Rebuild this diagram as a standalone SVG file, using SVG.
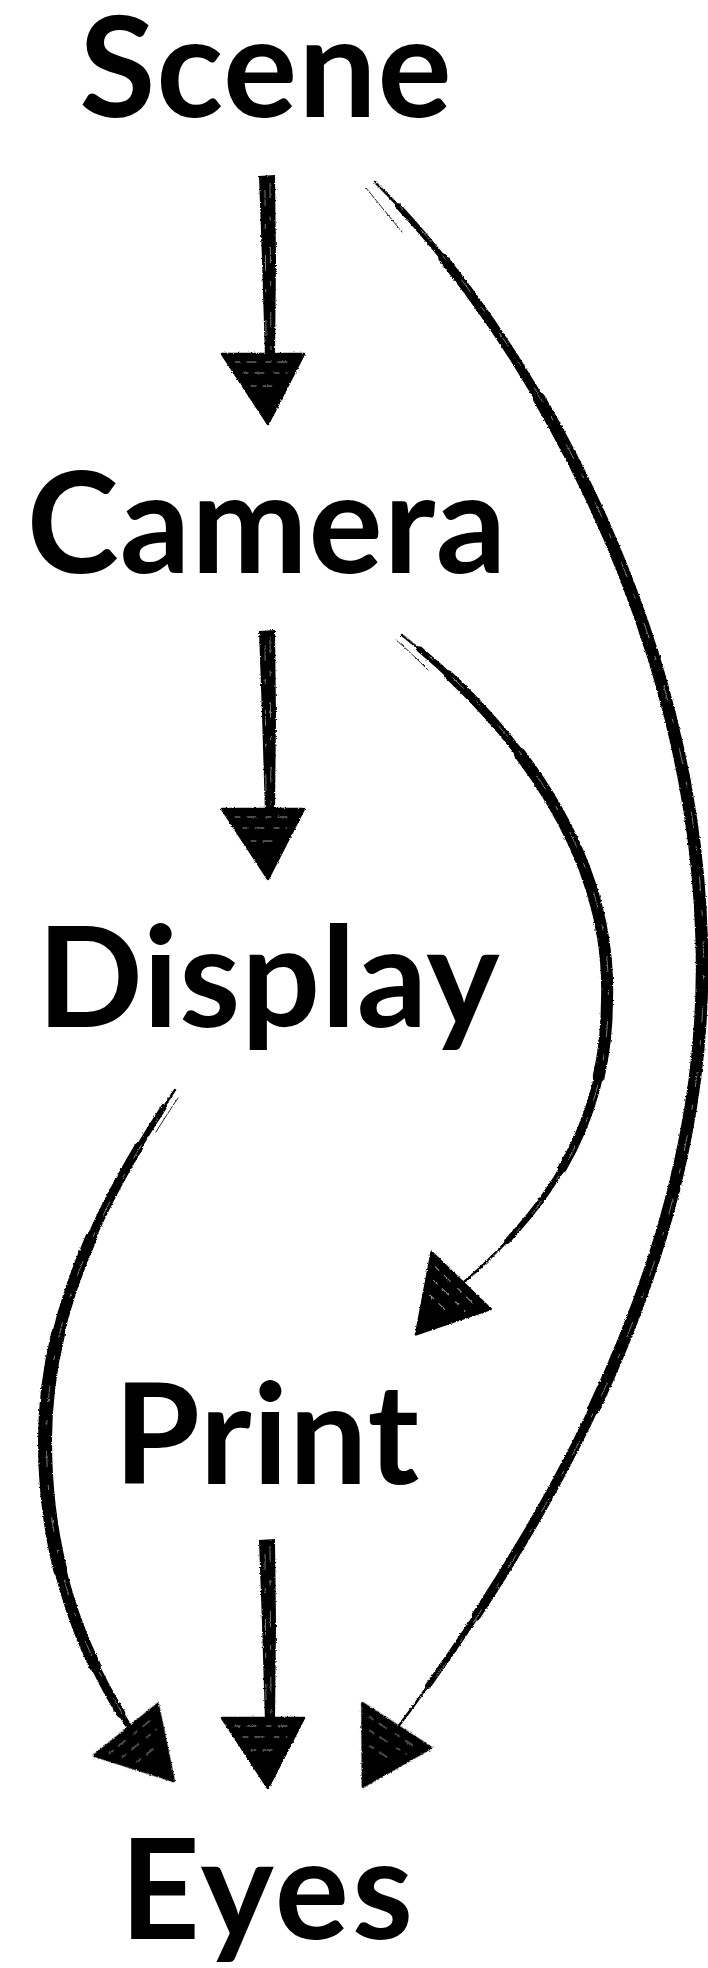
<svg xmlns="http://www.w3.org/2000/svg" xmlns:xlink="http://www.w3.org/1999/xlink" width="708" height="1968" viewBox="0 0 708 1968">
<style>
  .label { font-family: "Lato", "Liberation Sans", sans-serif; font-weight: 700; font-size: 139px; letter-spacing: 1px; fill: #000; text-anchor: middle; }
  .ink { fill: none; stroke: #000; stroke-linecap: round; stroke-linejoin: round; }
  .hair { fill: none; stroke: #000; stroke-width: 1; stroke-linecap: round; opacity: 0.85; }
  .head { fill: #000; stroke: #000; stroke-width: 2.5; stroke-linejoin: round; }
  .streak { fill: none; stroke: #fff; stroke-width: 1; stroke-linecap: round; stroke-dasharray: 5 7 9 10; opacity: 0.6; }
  .fiber { fill: none; stroke: #fff; stroke-width: 0.8; stroke-dasharray: 16 18 5 26; opacity: 0.6; }
</style>
<defs>
  <filter id="rough" filterUnits="userSpaceOnUse" x="0" y="0" width="708" height="1968">
    <feTurbulence type="fractalNoise" baseFrequency="0.55" numOctaves="2" seed="3" result="n"/>
    <feDisplacementMap in="SourceGraphic" in2="n" scale="2.6" xChannelSelector="R" yChannelSelector="G"/>
  </filter>
  <g id="arrowhead">
    <path class="head" d="M-43,0 L39,0 L3,70 Z"/>
    <path class="streak" d="M-30,8 L26,8 M-22,19 L22,19 M-14,32 L15,32"/>
  </g>
  <g id="straight-shaft">
    <path fill="#000" d="M259,176 L275,175 L276,260 L275,358 L265,358 L262,260 Z"/>
    <path class="fiber" d="M265,190 L266,340 M270,182 L271,350"/>
  </g>
</defs>
<rect width="708" height="1968" fill="#fff"/>

<g id="connectors" filter="url(#rough)">
  <g id="edge-scene-camera">
    <use href="#straight-shaft"/>
    <use href="#arrowhead" transform="translate(265,354)"/>
  </g>
  <g id="edge-camera-display">
    <use href="#straight-shaft" transform="translate(0,455)"/>
    <use href="#arrowhead" transform="translate(265,809)"/>
  </g>
  <g id="edge-print-eyes">
    <use href="#straight-shaft" transform="translate(0,1364)"/>
    <use href="#arrowhead" transform="translate(265,1718)"/>
  </g>
  <g id="edge-scene-eyes">
    <path class="hair" d="M366,188 C380,205 392,220 402,232"/>
    <path class="ink" pathLength="100" stroke-width="2.5" d="M375,182 C515,320 700,620 702,960 C705,1230 575,1490 398,1727"/>
    <path class="ink" pathLength="100" stroke-width="6" stroke-dasharray="95 200" stroke-dashoffset="-2" d="M375,182 C515,320 700,620 702,960 C705,1230 575,1490 398,1727"/>
    <path class="ink" pathLength="100" stroke-width="9.5" stroke-dasharray="86 200" stroke-dashoffset="-6" d="M375,182 C515,320 700,620 702,960 C705,1230 575,1490 398,1727"/>
    <path class="ink" pathLength="100" stroke-width="12.5" stroke-dasharray="62 200" stroke-dashoffset="-16" d="M375,182 C515,320 700,620 702,960 C705,1230 575,1490 398,1727"/>
    <path class="fiber" transform="translate(1.5,0)" d="M375,182 C515,320 700,620 702,960 C705,1230 575,1490 398,1727"/>
    <use href="#arrowhead" transform="translate(398.5,1726.5) rotate(33)"/>
  </g>
  <g id="edge-camera-print">
    <path class="hair" d="M396,640 C408,650 418,660 428,670"/>
    <path class="ink" pathLength="100" stroke-width="2.5" d="M402,635 C510,720 612,850 607,1000 C607,1110 560,1200 463,1283"/>
    <path class="ink" pathLength="100" stroke-width="6" stroke-dasharray="89 200" stroke-dashoffset="-3" d="M402,635 C510,720 612,850 607,1000 C607,1110 560,1200 463,1283"/>
    <path class="ink" pathLength="100" stroke-width="9" stroke-dasharray="72 200" stroke-dashoffset="-8" d="M402,635 C510,720 612,850 607,1000 C607,1110 560,1200 463,1283"/>
    <path class="ink" pathLength="100" stroke-width="12" stroke-dasharray="45 200" stroke-dashoffset="-22" d="M402,635 C510,720 612,850 607,1000 C607,1110 560,1200 463,1283"/>
    <path class="fiber" transform="translate(1.2,0)" d="M402,635 C510,720 612,850 607,1000 C607,1110 560,1200 463,1283"/>
    <use href="#arrowhead" transform="translate(462.5,1282) rotate(44)"/>
  </g>
  <g id="edge-display-eyes">
    <path class="hair" d="M178,1098 C170,1110 162,1122 156,1132"/>
    <path class="ink" pathLength="100" stroke-width="2.5" d="M175,1090 C115,1180 45,1300 45,1440 C45,1560 80,1650 128,1725"/>
    <path class="ink" pathLength="100" stroke-width="6" stroke-dasharray="97 200" stroke-dashoffset="-3" d="M175,1090 C115,1180 45,1300 45,1440 C45,1560 80,1650 128,1725"/>
    <path class="ink" pathLength="100" stroke-width="9" stroke-dasharray="88 200" stroke-dashoffset="-10" d="M175,1090 C115,1180 45,1300 45,1440 C45,1560 80,1650 128,1725"/>
    <path class="ink" pathLength="100" stroke-width="12" stroke-dasharray="65 200" stroke-dashoffset="-25" d="M175,1090 C115,1180 45,1300 45,1440 C45,1560 80,1650 128,1725"/>
    <path class="ink" pathLength="100" stroke-width="14" stroke-dasharray="35 200" stroke-dashoffset="-40" d="M175,1090 C115,1180 45,1300 45,1440 C45,1560 80,1650 128,1725"/>
    <path class="fiber" transform="translate(1.5,0)" d="M175,1090 C115,1180 45,1300 45,1440 C45,1560 80,1650 128,1725"/>
    <use href="#arrowhead" transform="translate(127.5,1728.5) rotate(-39)"/>
  </g>
</g>

<g id="node-scene"><text class="label" x="266" y="117">Scene</text></g>
<g id="node-camera"><text class="label" x="267" y="573">Camera</text></g>
<g id="node-display"><text class="label" x="269" y="1027">Display</text></g>
<g id="node-print"><text class="label" x="267" y="1484">Print</text></g>
<g id="node-eyes"><text class="label" x="268" y="1939" style="letter-spacing:3px">Eyes</text></g>
</svg>
